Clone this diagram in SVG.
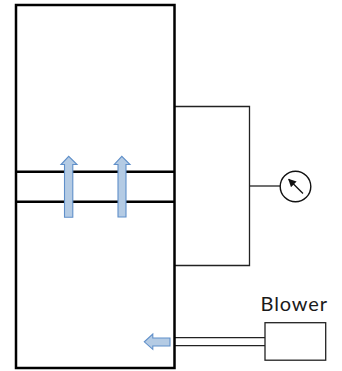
<svg xmlns="http://www.w3.org/2000/svg" width="342" height="371" viewBox="0 0 342 371">
<style>
.heavy{fill:none;stroke:#000;stroke-width:2.5}
.thin{fill:none;stroke:#222;stroke-width:1.3}
.flow{fill:#b4cbe4;stroke:#5f8fc9;stroke-width:1.1}
text{font-family:Lato,"Liberation Sans",sans-serif;font-size:20px;letter-spacing:.9px;fill:#1a1a1a}
</style>
<defs>
<marker id="tip" viewBox="0 0 10 10" refX="9" refY="5" markerWidth="8" markerHeight="8" markerUnits="userSpaceOnUse" orient="auto"><path d="M0 0L10 5L0 10Z" fill="#111"/></marker>
</defs>
<g id="connectors">
<path class="thin" d="M175 106.500H249.500V265.500H175"/>
<path class="thin" d="M249.500 186H280"/>
<path class="thin" d="M175 337.700H265M175 345.700H265"/>
</g>
<g id="column">
<rect class="heavy" x="16" y="5" width="158.500" height="363"/>
<path class="heavy" d="M16 171.700H174.500M16 201.700H174.500"/>
</g>
<g id="flow-arrows">
<path class="flow" d="M64.500 217.300V164.500H61L68.700 156.300L77 164.500H72.800V217.300Z"/>
<path class="flow" d="M118 217V164.500H114.300L121.800 156.300L130 164.500H126V217Z"/>
<path class="flow" d="M170 338V346H152.800V349.300L144.300 341.800L152.800 334V338Z"/>
</g>
<g id="gauge">
<circle cx="295.500" cy="186.500" r="15.300" fill="#fff" stroke="#111" stroke-width="1.4"/>
<path d="M303 193.500L288.700 179.300" stroke="#111" stroke-width="1.3" marker-end="url(#tip)"/>
</g>
<g id="blower">
<rect x="265" y="322.700" width="60.700" height="37.500" fill="#fff" stroke="#222" stroke-width="1.3"/>
<text x="260.500" y="311">Blower</text>
</g>
</svg>
